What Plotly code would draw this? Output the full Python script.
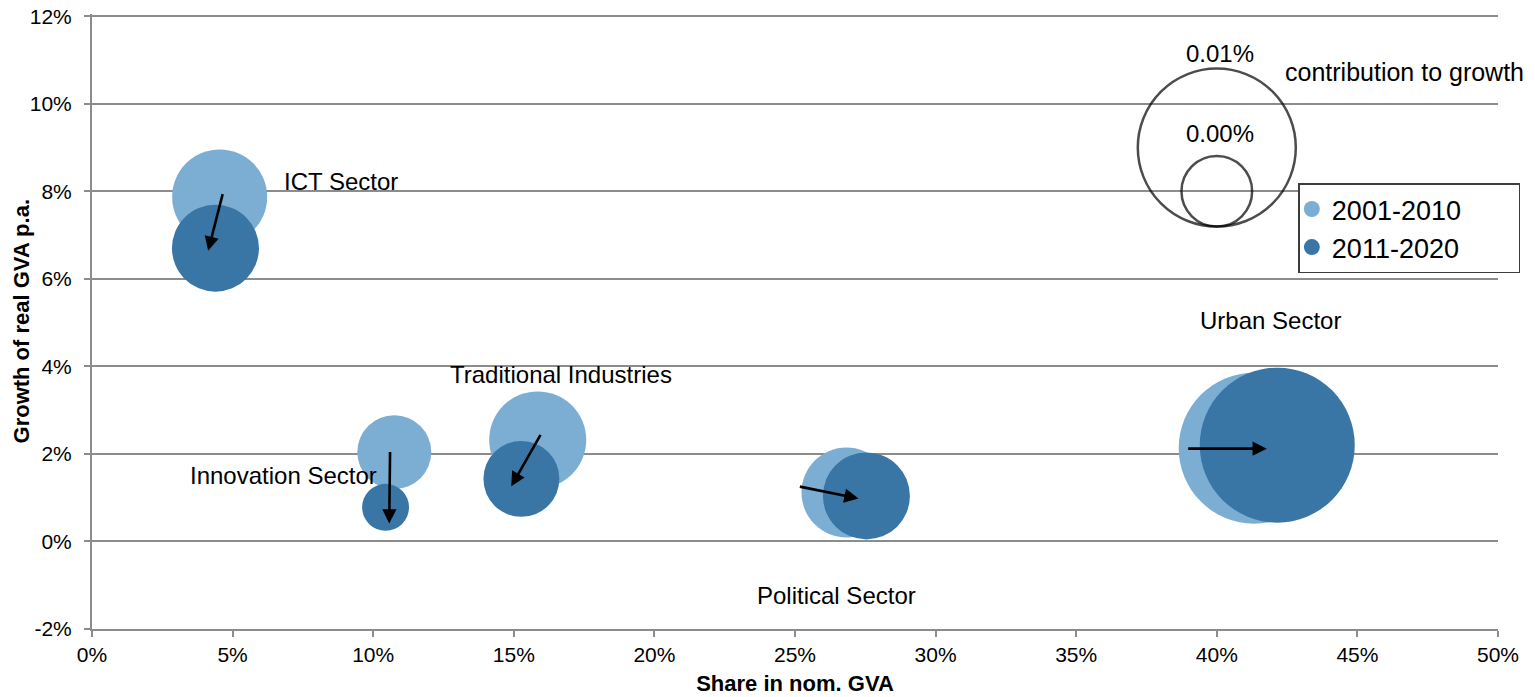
import plotly.graph_objects as go

# ---------------- data ----------------
sectors = ["ICT Sector", "Innovation Sector", "Traditional Industries", "Political Sector", "Urban Sector"]

share_2001 = [4.54, 10.75, 15.85, 26.83, 41.33]      # share in nominal GVA, %
growth_2001 = [7.87, 2.04, 2.32, 1.12, 2.13]         # growth of real GVA p.a., %
contrib_2001 = [0.362, 0.219, 0.377, 0.324, 0.913]   # contribution to growth (bubble area)

share_2011 = [4.39, 10.44, 15.27, 27.54, 42.15]
growth_2011 = [6.70, 0.78, 1.43, 1.04, 2.20]
contrib_2011 = [0.303, 0.088, 0.231, 0.303, 0.962]

# arrows drawn on the chart (start -> end, data units)
arrow_x0 = [4.66, 10.60, 15.98, 25.12, 38.93]
arrow_y0 = [7.97, 2.08, 2.47, 1.26, 2.12]
arrow_x1 = [4.13, 10.57, 14.91, 27.26, 41.78]
arrow_y1 = [6.64, 0.41, 1.26, 0.98, 2.12]

# sector label positions (data units)
label_x = [8.86, 6.80, 16.69, 26.48, 41.92]
label_y = [8.22, 1.51, 3.81, -1.23, 5.05]

# bubble size legend
size_legend_values = [1.0, 0.2]
size_legend_labels = ["0.01%", "0.00%"]
size_legend_x = [40.0, 40.0]
size_legend_y = [9.0, 8.0]
size_legend_label_y = [11.14, 9.32]

x_ticks = [0, 5, 10, 15, 20, 25, 30, 35, 40, 45, 50]
y_ticks = [-2, 0, 2, 4, 6, 8, 10, 12]

# ---------------- style ----------------
LIGHT = "#7CADD3"
DARK = "#3976A6"
GRID = "#8C8C8C"
MAX_D = 158  # px diameter of value 1.0
SIZEREF = 2.0 * 1.0 / (MAX_D ** 2)
TXT_FONT = "Liberation Sans"
TITLE_FONT = "Liberation Sans"
PAD = "\u00a0" * 7

fig = go.Figure()

fig.add_trace(go.Scatter(
    x=share_2001, y=growth_2001, mode="markers", name="2001-2010", showlegend=False,
    marker=dict(size=contrib_2001, sizemode="area", sizeref=SIZEREF,
                color=LIGHT, opacity=1, line=dict(width=0)),
    hoverinfo="skip"))
fig.add_trace(go.Scatter(
    x=share_2011, y=growth_2011, mode="markers", name="2011-2020", showlegend=False,
    marker=dict(size=contrib_2011, sizemode="area", sizeref=SIZEREF,
                color=DARK, opacity=1, line=dict(width=0)),
    hoverinfo="skip"))

# legend entries (fixed-size dots)
for nm, col in [("2001-2010", LIGHT), ("2011-2020", DARK)]:
    fig.add_trace(go.Scatter(x=[None], y=[None], mode="markers", name=nm + PAD,
                             marker=dict(size=17, color=col), hoverinfo="skip"))

# size legend circles
fig.add_trace(go.Scatter(
    x=size_legend_x, y=size_legend_y, mode="markers", showlegend=False,
    marker=dict(size=size_legend_values, sizemode="area", sizeref=SIZEREF,
                symbol="circle-open", color="black", line=dict(width=2.5, color="black")),
    hoverinfo="skip"))

annotations = []
for i in range(len(sectors)):
    annotations.append(dict(
        x=arrow_x1[i], y=arrow_y1[i], ax=arrow_x0[i], ay=arrow_y0[i],
        xref="x", yref="y", axref="x", ayref="y",
        showarrow=True, arrowhead=2, arrowsize=1.1, arrowwidth=2.6,
        arrowcolor="black", standoff=0, startstandoff=0, text=""))
    annotations.append(dict(
        x=label_x[i], y=label_y[i], xref="x", yref="y", text=sectors[i],
        showarrow=False, font=dict(family=TXT_FONT, size=24, color="black")))

for v, lab, lx, ly in zip(size_legend_values, size_legend_labels, size_legend_x, size_legend_label_y):
    annotations.append(dict(x=lx + 0.1, y=ly, xref="x", yref="y", text=lab, showarrow=False,
                            font=dict(family=TXT_FONT, size=24, color="black")))
annotations.append(dict(x=46.66, y=10.73, xref="x", yref="y", text="contribution to growth",
                        showarrow=False, font=dict(family=TXT_FONT, size=25, color="black")))

# y-axis title
annotations.append(dict(x=-0.0498, y=0.5, xref="paper", yref="paper", textangle=-90,
                        text="<b>Growth of real GVA p.a.</b>", showarrow=False,
                        xanchor="center", yanchor="middle",
                        font=dict(family=TITLE_FONT, size=22, color="black")))

fig.update_layout(
    width=1535, height=697,
    margin=dict(l=92, r=37, t=14, b=68),
    paper_bgcolor="white", plot_bgcolor="white",
    font=dict(family=TXT_FONT, color="black"),
    annotations=annotations,
    showlegend=True,
    legend=dict(x=0.858, y=0.7245, xanchor="left", yanchor="top",
                bgcolor="white", bordercolor="#3C3C3C", borderwidth=1.5,
                font=dict(family=TXT_FONT, size=27, color="black"),
                itemwidth=30, tracegroupgap=2, indentation=-8),
)

fig.update_xaxes(
    range=[0, 50], tickvals=x_ticks, ticktext=[f"{t}%" for t in x_ticks],
    showgrid=False, zeroline=False, automargin=False, ticklabeloverflow="allow",
    showline=True, linecolor=GRID, linewidth=2,
    ticks="outside", ticklen=6, tickcolor=GRID, tickwidth=2,
    tickfont=dict(family=TXT_FONT, size=21, color="black"),
    title=dict(text="<b>Share in nom. GVA</b>", font=dict(family=TITLE_FONT, size=22, color="black"),
               standoff=10),
)
fig.update_yaxes(
    range=[-2, 12.05], tickvals=y_ticks, ticktext=[f"{t}%" for t in y_ticks],
    showgrid=True, gridcolor=GRID, gridwidth=2, zeroline=False, automargin=False,
    ticklabeloverflow="allow",
    showline=True, linecolor=GRID, linewidth=2,
    ticks="outside", ticklen=6, tickcolor=GRID, tickwidth=2, ticklabelstandoff=8,
    tickfont=dict(family=TXT_FONT, size=21, color="black"),
)

fig.write_html("out.html", post_script="document.body.style.margin='0px';",
               config={"displayModeBar": False})
